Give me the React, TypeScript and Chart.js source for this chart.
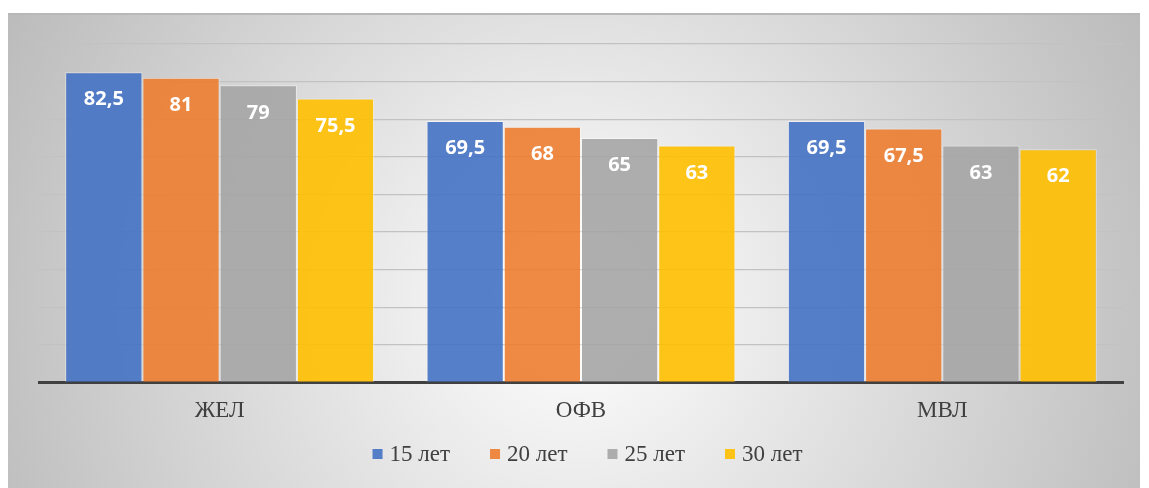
import React, { useEffect, useRef } from "react";
import { Chart, registerables } from "chart.js";

Chart.register(...registerables);

const categories = ["ЖЕЛ", "ОФВ", "МВЛ"];
const seriesNames = ["15 лет", "20 лет", "25 лет", "30 лет"];
const values15 = [82.5, 69.5, 69.5];
const values20 = [81, 68, 67.5];
const values25 = [79, 65, 63];
const values30 = [75.5, 63, 62];
const seriesColors = [
  "rgba(68,114,196,0.9)",
  "rgba(237,125,49,0.9)",
  "rgba(165,165,165,0.9)",
  "rgba(255,192,0,0.9)",
];
const yTicksMin = 0;
const yTicksMax = 90;
const yTicksStep = 10;

const W = 1132;
const H = 475;
const SERIF = "'Liberation Serif', 'Times New Roman', serif";

const bgPlugin = {
  id: "bgPlugin",
  beforeDraw(chart: any) {
    const ctx = chart.ctx;
    ctx.save();
    const g = ctx.createRadialGradient(566, 290, 0, 566, 290, 630);
    g.addColorStop(0, "#ffffff");
    g.addColorStop(1, "#bcbcbc");
    ctx.fillStyle = g;
    ctx.fillRect(0, 0, chart.width, chart.height);
    ctx.fillStyle = "#b8b8b8";
    ctx.fillRect(0, 0, chart.width, 2);
    ctx.restore();
  },
};

const labelPlugin = {
  id: "labelPlugin",
  afterDatasetsDraw(chart: any) {
    const ctx = chart.ctx;
    ctx.save();
    ctx.fillStyle = "#ffffff";
    ctx.font = "bold 20px 'Open Sans'";
    ctx.textAlign = "center";
    ctx.textBaseline = "middle";
    chart.data.datasets.forEach((ds: any, i: number) => {
      const meta = chart.getDatasetMeta(i);
      meta.data.forEach((bar: any, j: number) => {
        const v = ds.data[j];
        const txt = String(v).replace(".", ",");
        ctx.fillText(txt, bar.x, bar.y + 27.5);
      });
    });
    ctx.restore();
  },
};

const legendPlugin = {
  id: "legendPlugin",
  afterDraw(chart: any) {
    const ctx = chart.ctx;
    ctx.save();
    ctx.font = `23px ${SERIF}`;
    ctx.textBaseline = "middle";
    ctx.textAlign = "left";
    const box = 10;
    const gapText = 7;
    const gapItem = 40;
    const items = chart.data.datasets.map((ds: any) => ({
      label: ds.label,
      color: ds.backgroundColor,
      w: box + gapText + ctx.measureText(ds.label).width,
    }));
    const total = items.reduce((a: number, it: any) => a + it.w, 0) + gapItem * (items.length - 1);
    let x = 579.5 - total / 2;
    const y = 441;
    items.forEach((it: any) => {
      ctx.fillStyle = it.color;
      ctx.fillRect(x, y - box / 2, box, box);
      ctx.fillStyle = "#404040";
      ctx.fillText(it.label, x + box + gapText, y + 1);
      x += it.w + gapItem;
    });
    ctx.restore();
  },
};

export default function App() {
  const ref = useRef<HTMLCanvasElement | null>(null);
  useEffect(() => {
    document.body.style.overflow = "hidden";
    const allValues = [values15, values20, values25, values30];
    const chart = new Chart(ref.current as HTMLCanvasElement, {
      type: "bar",
      data: {
        labels: categories,
        datasets: seriesNames.map((name, i) => ({
          label: name,
          data: allValues[i],
          backgroundColor: seriesColors[i],
          borderColor: "rgba(255,255,255,0.45)",
          borderWidth: 1,
          categoryPercentage: 0.855,
          barPercentage: 1,
        })),
      },
      options: {
        responsive: false,
        animation: false,
        layout: { padding: { left: 27, right: 0, top: 31, bottom: 56 } },
        plugins: {
          tooltip: { enabled: false },
          legend: { display: false },
        },
        scales: {
          x: {
            grid: { display: false },
            border: { display: true, color: "#404040", width: 3 },
            ticks: {
              color: "#404040",
              padding: 7,
              font: { family: SERIF, size: 23 },
            },
          },
          y: {
            min: yTicksMin,
            max: yTicksMax,
            ticks: { display: false, stepSize: yTicksStep },
            border: { display: false },
            grid: { color: "#c2c2c2", lineWidth: 1.3, drawTicks: false },
            afterFit: (s: any) => {
              s.width = 4;
            },
          },
          y2: {
            position: "right",
            min: yTicksMin,
            max: yTicksMax,
            ticks: { display: false },
            border: { display: false },
            grid: { display: false, drawTicks: false },
            afterFit: (s: any) => {
              s.width = 17;
            },
          },
        },
      },
      plugins: [bgPlugin, labelPlugin, legendPlugin],
    });
    return () => chart.destroy();
  }, []);
  return (
    <div style={{ marginTop: 5, width: W, height: H }}>
      <canvas ref={ref} width={W} height={H} style={{ width: W, height: H, display: "block" }} />
    </div>
  );
}
